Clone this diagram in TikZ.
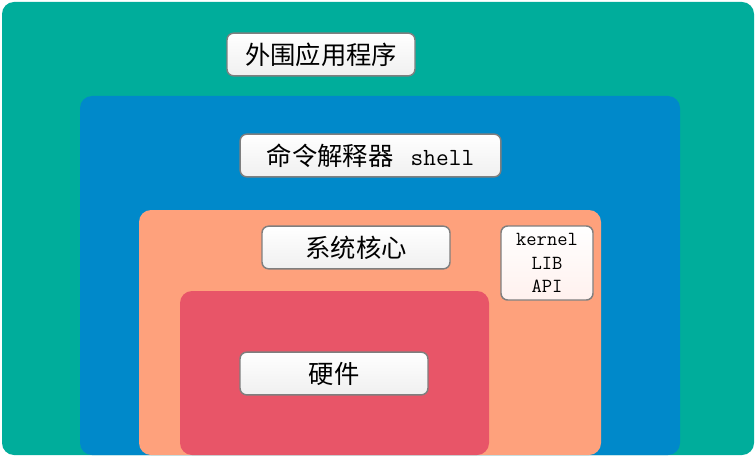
\documentclass[tikz,border=0pt]{standalone}
\usepackage{fontspec}
\newfontfamily\cjk{Noto Sans CJK SC}
\definecolor{teal0}{HTML}{00AD9B}
\definecolor{blue0}{HTML}{0089CA}
\definecolor{salmon0}{HTML}{FEA17C}
\definecolor{red0}{HTML}{E85568}
\definecolor{border0}{HTML}{7F7F7F}
\definecolor{pink0}{HTML}{FFF1EE}
\tikzset{
  region/.style={rounded corners=9pt},
  labelbox/.style={draw=border0, line width=1.1pt, rounded corners=5pt,
    top color=white, bottom color=gray!12, inner sep=0pt, text=black,
    font=\cjk\fontsize{19pt}{22pt}\selectfont},
  kbox/.style={labelbox, top color=white, bottom color=pink0, align=center,
    font=\ttfamily\fontsize{15pt}{17.5pt}\selectfont},
}
\begin{document}
\begin{tikzpicture}[x=0.75pt,y=-0.75pt]
\useasboundingbox (0,0) rectangle (756,456);
\fill[white] (0,0) rectangle (756,456);
\fill[teal0, region] (2,2) rectangle (754,455);
\fill[blue0, region] (80,96) rectangle (680,455);
\fill[salmon0, region] (139,210) rectangle (601,455);
\fill[red0, region] (180,291) rectangle (489,455);
\node[labelbox, minimum width=141pt, minimum height=32pt] (app) at (321,54.5) {外围应用程序};
\node[labelbox, minimum width=195.5pt, minimum height=32pt] (shell) at (370.5,155.5) {命令解释器\hspace{13pt}{\ttfamily\fontsize{18.5pt}{22pt}\selectfont shell}};
\node[labelbox, minimum width=141pt, minimum height=32pt] (core) at (356,247.5) {系统核心};
\node[kbox, minimum width=69pt, minimum height=55.5pt] (kernel) at (547,263) {kernel\\LIB\\API};
\node[labelbox, minimum width=141pt, minimum height=32pt] (hw) at (334,373.5) {硬件};
\end{tikzpicture}
\end{document}
